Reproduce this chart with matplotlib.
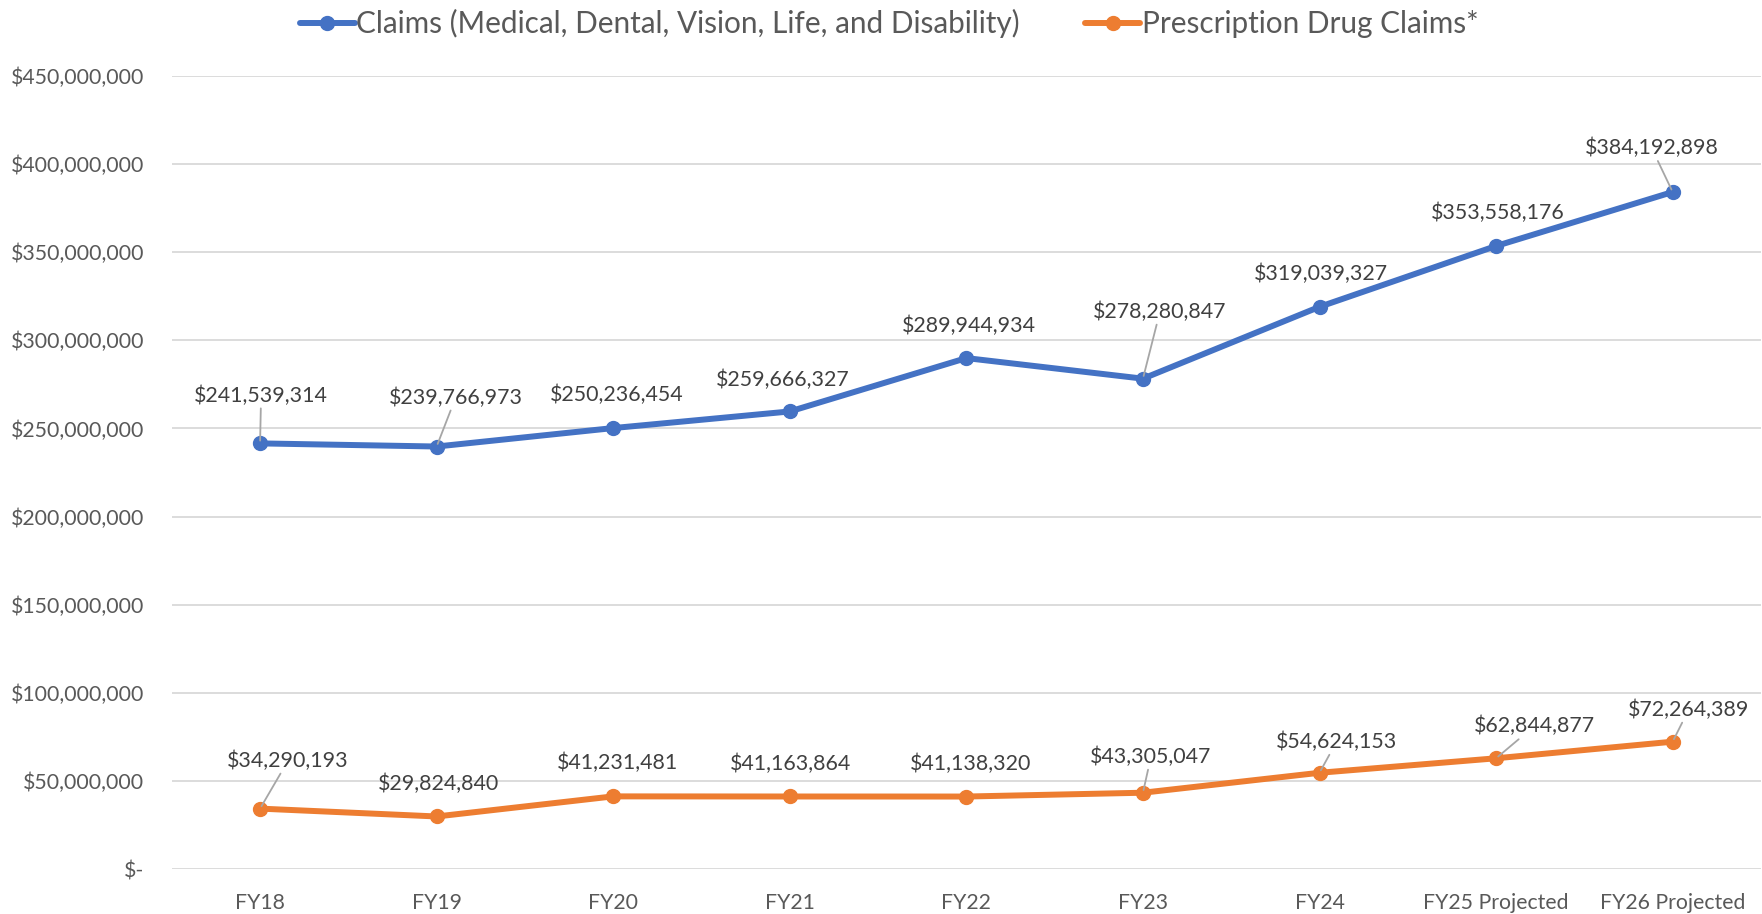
import matplotlib
matplotlib.use('Agg')
import matplotlib.pyplot as plt
from matplotlib.ticker import FuncFormatter

categories = ['FY18', 'FY19', 'FY20', 'FY21', 'FY22', 'FY23', 'FY24',
              'FY25 Projected', 'FY26 Projected']
claims = [241539314, 239766973, 250236454, 259666327, 289944934,
          278280847, 319039327, 353558176, 384192898]
rx_claims = [34290193, 29824840, 41231481, 41163864, 41138320,
             43305047, 54624153, 62844877, 72264389]
series_names = ['Claims (Medical, Dental, Vision, Life, and Disability)',
                'Prescription Drug Claims*']

# label offsets in pixels (dx, dy up) and whether a leader line is drawn
claims_offsets = [(1, 48), (19, 49), (3, 33), (-7, 32), (3, 32),
                  (17, 67), (1, 33), (2, 33), (-21, 44)]
claims_leaders = [True, True, False, False, False, True, False, False, True]
rx_offsets = [(28, 48), (2, 33), (4, 33), (1, 33), (4, 33),
              (8, 36), (17, 31), (38, 32), (16, 32)]
rx_leaders = [True, False, False, False, False, True, True, True, True]

BLUE = '#4472C4'
ORANGE = '#ED7D31'
TEXT = '#595959'
FONT = ['Lato', 'DejaVu Sans']
PX = 72 / 100  # pixels -> points at dpi 100


def money(v, pos=None):
    if v == 0:
        return '$-'
    return '${:,.0f}'.format(v)


def add_labels(ax, xs, ys, offsets, leaders):
    for x, y, (dx, dy), lead in zip(xs, ys, offsets, leaders):
        arrow = None
        if lead:
            arrow = dict(arrowstyle='-', color='#A6A6A6', lw=1.3,
                         shrinkA=0, shrinkB=2)
        ax.annotate(money(y), xy=(x, y), xytext=(dx * PX, dy * PX),
                    textcoords='offset points', ha='center', va='center',
                    fontsize=15.4, color='#404040', family=FONT,
                    arrowprops=arrow, zorder=5)


def main():
    plt.rcParams['font.family'] = FONT
    fig = plt.figure(figsize=(17.62, 9.14), dpi=100)
    ax = fig.add_axes([0.0975, 0.0492, 0.9019, 0.8676])

    xs = list(range(len(categories)))
    ax.plot(xs, claims, color=BLUE, lw=4.3, marker='o', ms=10,
            label=series_names[0], zorder=4, solid_capstyle='round')
    ax.plot(xs, rx_claims, color=ORANGE, lw=4.3, marker='o', ms=10,
            label=series_names[1], zorder=4, solid_capstyle='round')

    add_labels(ax, xs, claims, claims_offsets, claims_leaders)
    add_labels(ax, xs, rx_claims, rx_offsets, rx_leaders)

    ax.set_xlim(-0.5, len(categories) - 0.5)
    ax.set_ylim(0, 450000000)
    ax.set_yticks(range(0, 450000001, 50000000))
    ax.yaxis.set_major_formatter(FuncFormatter(money))
    ax.set_xticks(xs)
    ax.set_xticklabels(categories)
    ax.grid(axis='y', color='#D9D9D9', lw=1.3)
    ax.set_axisbelow(True)
    for s in ax.spines.values():
        s.set_visible(False)
    ax.tick_params(length=0, labelsize=15.3, colors=TEXT)
    ax.tick_params(axis='y', pad=20)
    ax.tick_params(axis='x', pad=17)

    fig.legend(loc='center', bbox_to_anchor=(0.5045, 0.974), ncol=2,
               frameon=False, fontsize=21.4, handlelength=1.85,
               handletextpad=0.05, columnspacing=2.2, labelcolor=TEXT)

    fig.savefig('out.png', dpi=100)


if __name__ == '__main__':
    main()
